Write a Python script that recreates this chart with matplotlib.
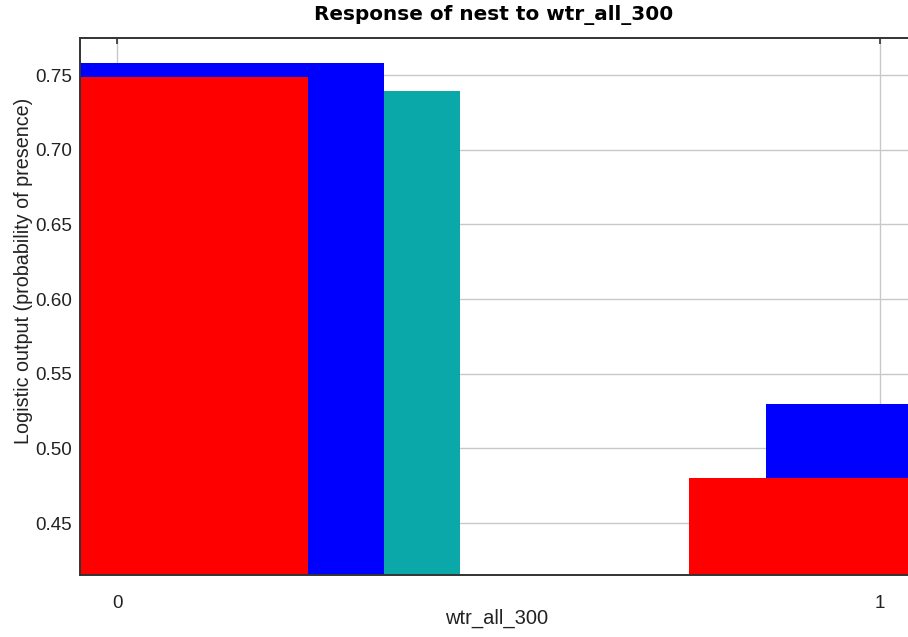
import matplotlib
matplotlib.use("Agg")
import matplotlib.pyplot as plt
import numpy as np

# Categorical response of nest to wtr_all_300
categories = [0, 1]
mean_response = [0.749, 0.480]
mean_plus_sd = [0.758, 0.530]
mean_minus_sd = [0.739, 0.430]
tick_labels = ["0", "1"]
y_ticks = [0.45, 0.50, 0.55, 0.60, 0.65, 0.70, 0.75]

W, H = 908, 637
fig = plt.figure(figsize=(W / 100, H / 100), dpi=100)
left, right, top, bottom = 80, 912, 38, 575
ax = fig.add_axes([left / W, (H - bottom) / H, (right - left) / W, (bottom - top) / H])

x = np.array(categories, dtype=float)
bar_w = 0.5
ax.bar(x + 0.2, mean_minus_sd, width=bar_w, color="#0aa8a8", zorder=2)
ax.bar(x + 0.1, mean_plus_sd, width=bar_w, color="#0000ff", zorder=3)
ax.bar(x, mean_response, width=bar_w, color="#ff0000", zorder=4)

ax.set_xlim(-0.0485, 1.042)
ax.set_ylim(0.4152, 0.7748)

ax.set_xticks(categories)
ax.set_xticklabels(tick_labels)
ax.set_yticks(y_ticks)
ax.set_yticklabels([f"{v:.2f}" for v in y_ticks])

ax.grid(True, color="#c8c8c8", linewidth=1.0, zorder=1)
ax.set_axisbelow(True)

sans = ["Liberation Sans", "DejaVu Sans"]
for lab in ax.get_xticklabels() + ax.get_yticklabels():
    lab.set_fontfamily(sans)
    lab.set_fontsize(13.6)
    lab.set_color("#222222")

ax.tick_params(axis="x", top=True, bottom=False, direction="in", length=4,
               width=1.2, color="#333333", pad=14.5, labelbottom=True)
ax.tick_params(axis="y", left=False, right=False, pad=2)

for side in ["top", "left", "bottom"]:
    ax.spines[side].set_color("#333333")
    ax.spines[side].set_linewidth(1.4)
    ax.spines[side].set_zorder(6)
ax.spines["right"].set_visible(False)

fig.text(497 / W, 1 - 618 / H, "wtr_all_300", ha="center", va="center",
         fontfamily=sans, fontsize=14.5, color="#222222")
fig.text(24 / W, 1 - 271 / H, "Logistic output (probability of presence)",
         ha="center", va="center", rotation=90, fontfamily=sans,
         fontsize=14.2, color="#222222")
fig.text(494 / W, 1 - 15 / H, "Response of nest to wtr_all_300",
         ha="center", va="center", fontsize=14.4, fontweight="bold",
         fontfamily="DejaVu Sans")

fig.savefig("out.png", dpi=100)
